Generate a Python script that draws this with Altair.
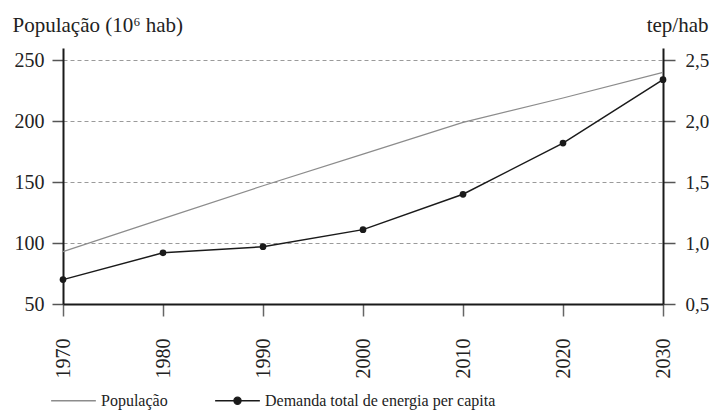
import altair as alt
import pandas as pd

anos = [1970, 1980, 1990, 2000, 2010, 2020, 2030]
populacao = [93, 120, 147, 173, 199, 219, 240]
energia = [0.70, 0.92, 0.97, 1.11, 1.40, 1.82, 2.34]
series = ["População", "Demanda total de energia per capita"]
pop_ticks = [50, 100, 150, 200, 250]
en_ticks = [0.5, 1.0, 1.5, 2.0, 2.5]

FONT = "Liberation Serif"
GREY = "#8c8c8c"
BLACK = "#1a1a1a"

df = pd.DataFrame({"ano": anos, "pop": populacao, "en": energia})
df_leg = pd.DataFrame({"ano": anos + anos, "en": energia + energia,
                       "serie": [series[0]] * 7 + [series[1]] * 7})

x = alt.X("ano:Q", scale=alt.Scale(domain=[1970, 2030], nice=False, zero=False),
          axis=alt.Axis(values=anos, format="d", title=None, grid=False,
                        labelAngle=-90, labelFontSize=20, labelPadding=22,
                        tickSize=12, tickColor="#666", tickWidth=1.5,
                        domainColor=BLACK, domainWidth=2))

pop_line = alt.Chart(df).mark_line(color=GREY, strokeWidth=1.2).encode(
    x=x,
    y=alt.Y("pop:Q", scale=alt.Scale(domain=[50, 260], nice=False, zero=False),
            axis=alt.Axis(orient="left", values=pop_ticks, grid=True,
                          gridDash=[4, 3], gridColor="#9a9a9a", gridWidth=1,
                          tickSize=11, tickColor="#555", tickWidth=1.5,
                          domainColor=BLACK, domainWidth=2,
                          labelFontSize=20, labelPadding=8,
                          title="População (10⁶ hab)", titleAngle=0,
                          titleAlign="left", titleBaseline="alphabetic",
                          titleX=-51, titleY=-17, titleFontSize=21,
                          titleFontWeight="normal")),
)

y_en = alt.Y("en:Q", scale=alt.Scale(domain=[0.5, 2.6], nice=False, zero=False),
             axis=alt.Axis(orient="right", values=en_ticks, grid=False,
                           labelExpr="replace(format(datum.value, '.1f'), '.', ',')",
                           tickSize=12, tickColor="#555", tickWidth=1.5,
                           domainColor=BLACK, domainWidth=2,
                           labelFontSize=19, labelPadding=10,
                           title="tep/hab", titleAngle=0,
                           titleAlign="right", titleBaseline="alphabetic",
                           titleX=45, titleY=-17, titleFontSize=21,
                           titleFontWeight="normal"))

en_line = alt.Chart(df).mark_line(color=BLACK, strokeWidth=1.5).encode(x=x, y=y_en)
en_pts = alt.Chart(df).mark_point(filled=True, size=45, color=BLACK, opacity=1).encode(
    x=x, y=y_en)

dot = "M-1,0L1,0M0.16,0A0.16,0.16 0 1,1 -0.16,0A0.16,0.16 0 1,1 0.16,0Z"
line_only = "M-1,0L1,0"
leg_scale_c = alt.Scale(domain=series, range=[GREY, BLACK])
legend_layer = alt.Chart(df_leg).transform_filter("false").mark_point(
    filled=True, opacity=1).encode(
    x=x,
    y=y_en,
    fill=alt.Fill("serie:N", scale=leg_scale_c, legend=alt.Legend(title=None)),
    stroke=alt.Stroke("serie:N", scale=leg_scale_c, legend=alt.Legend(title=None)),
    shape=alt.Shape("serie:N", scale=alt.Scale(domain=series, range=[line_only, dot]),
                    legend=alt.Legend(title=None)),
)

chart = alt.layer(pop_line, alt.layer(en_line, en_pts, legend_layer)).resolve_scale(
    y="independent"
).properties(
    width=600, height=256,
    autosize=alt.AutoSizeParams(type="none"),
    padding={"left": 55, "top": 40, "right": 46, "bottom": 107},
).configure_view(stroke=None).configure_axis(
    labelFont=FONT, titleFont=FONT, labelColor="#222", titleColor="#222",
).configure_legend(
    orient="none", legendX=-13, legendY=329, direction="horizontal",
    labelFont=FONT, labelFontSize=16, labelColor="#222", labelLimit=500,
    symbolSize=2000, symbolStrokeWidth=1.3, columnPadding=44,
    labelOffset=4, padding=0,
)

chart.save("out.html", embed_options={"renderer": "svg", "actions": False})
